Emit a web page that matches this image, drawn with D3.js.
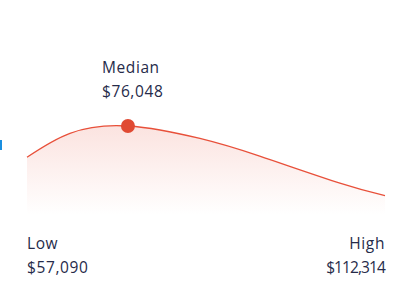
<!DOCTYPE html>
<html>
<head>
<meta charset="utf-8">
<script src="https://cdn.jsdelivr.net/npm/d3@7"></script>
<style>
  html, body { margin: 0; padding: 0; background: #fff; }
  svg { display: block; font-family: "Open Sans", "Noto Sans", sans-serif; }
</style>
</head>
<body>
<svg id="chart"></svg>
<script>
// position along the salary range (0 = low, 100 = high) and relative density
const positions = [0, 12, 28.2, 48.3, 65, 87.4, 100];
const density = [0.70, 0.93, 1.0, 0.88, 0.71, 0.45, 0.33];

const markerLabels = ["Low", "Median", "High"];
const markerValues = ["$57,090", "$76,048", "$112,314"];
const medianPos = 28.2;
const medianDensity = 1.0;

const width = 417, height = 307;
const svg = d3.select("#chart")
    .attr("width", width)
    .attr("height", height)
    .attr("viewBox", [0, 0, width, height]);

const x = d3.scaleLinear().domain([0, 100]).range([27, 385]);
const y = d3.scaleLinear().domain([0, 1]).range([230, 126]);

const pts = positions.map((p, i) => [p, density[i]]);

const defs = svg.append("defs");
const grad = defs.append("linearGradient")
    .attr("id", "fade")
    .attr("x1", 0).attr("y1", 0).attr("x2", 0).attr("y2", 1);
grad.append("stop").attr("offset", "0%").attr("stop-color", "#e8503a").attr("stop-opacity", 0.16);
grad.append("stop").attr("offset", "100%").attr("stop-color", "#e8503a").attr("stop-opacity", 0);

// little blue edge mark on the left
svg.append("rect")
    .attr("x", 0).attr("y", 140)
    .attr("width", 2).attr("height", 10)
    .attr("fill", "#1a8fe0");

const curve = d3.curveNatural;

const area = d3.area()
    .x(d => x(d[0]))
    .y0(215)
    .y1(d => y(d[1]))
    .curve(curve);

svg.append("path")
    .datum(pts)
    .attr("d", area)
    .attr("fill", "url(#fade)");

const line = d3.line()
    .x(d => x(d[0]))
    .y(d => y(d[1]))
    .curve(curve);

svg.append("path")
    .datum(pts)
    .attr("d", line)
    .attr("fill", "none")
    .attr("stroke", "#e8503a")
    .attr("stroke-width", 1.3);

svg.append("circle")
    .attr("cx", x(medianPos))
    .attr("cy", y(medianDensity))
    .attr("r", 7)
    .attr("fill", "#e04a33");

const textColor = "#262b4a";

function label(tx, ty, name, val, anchor, valSpacing) {
    svg.append("text")
        .attr("x", tx).attr("y", ty)
        .attr("text-anchor", anchor)
        .attr("fill", textColor)
        .attr("font-size", 15.5)
        .attr("letter-spacing", 0.6)
        .text(name);
    svg.append("text")
        .attr("x", tx).attr("y", ty + 24)
        .attr("text-anchor", anchor)
        .attr("fill", textColor)
        .attr("font-size", 15.5)
        .attr("letter-spacing", valSpacing)
        .text(val);
}

label(x(medianPos) - 26, 73, markerLabels[1], markerValues[1], "start", 0.6);
label(x(0), 249, markerLabels[0], markerValues[0], "start", 0.6);
label(x(100), 249, markerLabels[2], markerValues[2], "end", -0.9);
</script>
</body>
</html>
